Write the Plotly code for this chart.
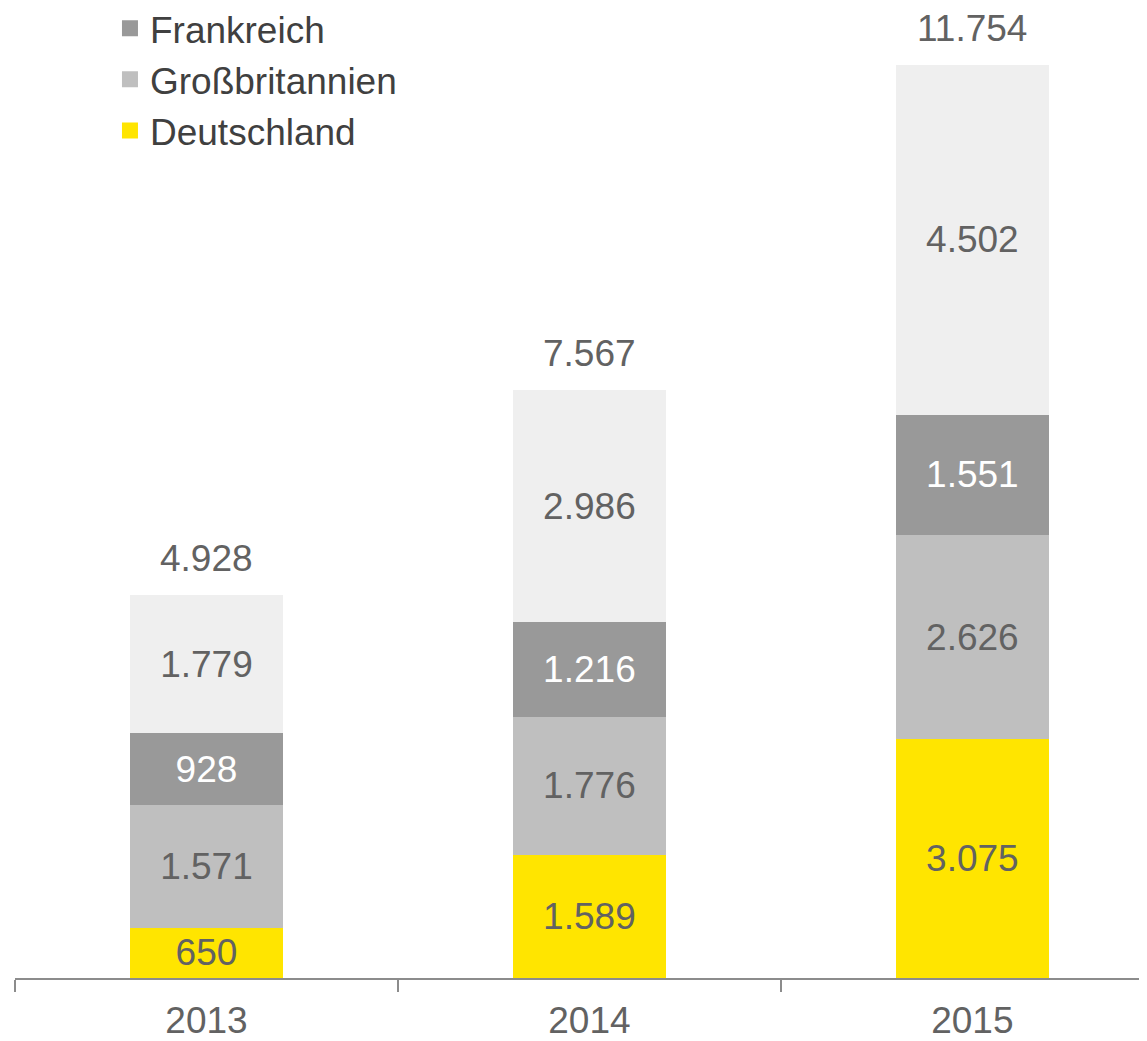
import plotly.graph_objects as go

# Daten
jahre = ["2013", "2014", "2015"]
deutschland = [650, 1589, 3075]
grossbritannien = [1571, 1776, 2626]
frankreich = [928, 1216, 1551]
sonstige = [1779, 2986, 4502]
gesamt = [a + b + c + d for a, b, c, d in zip(deutschland, grossbritannien, frankreich, sonstige)]

FONT = "Liberation Sans, Arial, sans-serif"
TXT = "#626262"
FS = 37

fig = go.Figure()

serien = [
    ("Deutschland", deutschland, "#FFE500", TXT),
    ("Großbritannien", grossbritannien, "#BFBFBF", TXT),
    ("Frankreich", frankreich, "#999999", "white"),
    ("Sonstige", sonstige, "#EFEFEF", TXT),
]

for name, werte, farbe, textfarbe in serien:
    fig.add_trace(go.Bar(
        x=jahre,
        y=werte,
        name=name,
        marker=dict(color=farbe, line=dict(width=0)),
        width=0.4,
        texttemplate="%{y:,}",
        textposition="inside",
        insidetextanchor="middle",
        textangle=0,
        insidetextfont=dict(color=textfarbe, size=FS, family=FONT),
        showlegend=False,
        hoverinfo="skip",
    ))

# Legendeneinträge (quadratische Symbole), Frankreich oben
for name, werte, farbe, textfarbe in reversed(serien[:3]):
    fig.add_trace(go.Scatter(
        x=[None], y=[None],
        mode="markers",
        name=name,
        marker=dict(symbol="square", size=19, color=farbe),
        legendgroup=name,
    ))

# Summen über den Balken (x als Kategorieindex)
for i, summe in enumerate(gesamt):
    fig.add_annotation(
        x=i, y=summe,
        xref="x", yref="y",
        text=f"{summe:,}".replace(",", "."),
        showarrow=False,
        yanchor="bottom",
        yshift=14,
        font=dict(size=FS, color=TXT, family=FONT),
    )

fig.update_layout(
    barmode="stack",
    width=1139,
    height=1033,
    margin=dict(l=7, r=0, t=0, b=63, autoexpand=False),
    paper_bgcolor="white",
    plot_bgcolor="white",
    separators=",.",
    font=dict(family=FONT, size=FS, color=TXT),
    uniformtext=dict(minsize=FS, mode="show"),
    showlegend=True,
    legend=dict(
        x=0.0839, xanchor="left",
        y=1.0106, yanchor="top",
        traceorder="grouped",
        font=dict(size=FS, color="#404040", family=FONT),
        tracegroupgap=0,
        bgcolor="rgba(0,0,0,0)",
    ),
    xaxis=dict(
        type="category",
        range=[-0.5, 2.456],
        tickson="boundaries",
        ticks="outside",
        ticklen=12,
        tickwidth=2,
        tickcolor="#8c8c8c",
        showline=True,
        linecolor="#8c8c8c",
        linewidth=2,
        showgrid=False,
        ticklabelstandoff=9,
        tickfont=dict(size=FS, color=TXT, family=FONT),
    ),
    yaxis=dict(
        range=[0, 12488],
        visible=False,
        showgrid=False,
        zeroline=False,
    ),
)

fig.write_html("out.html")
